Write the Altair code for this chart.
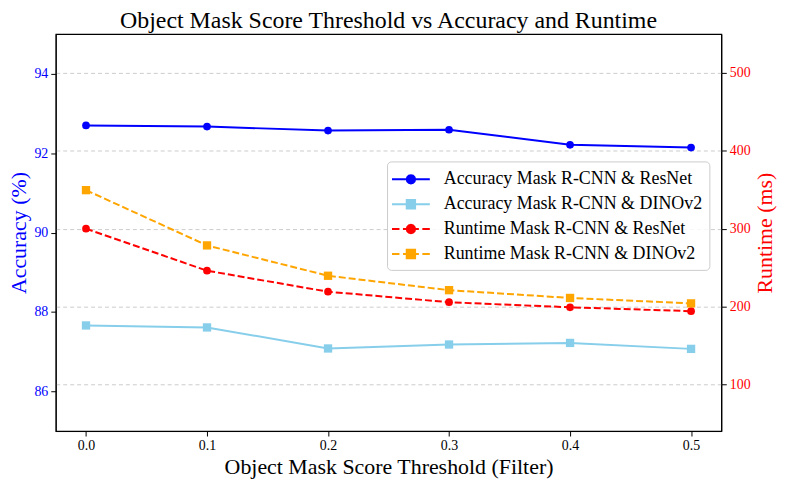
import altair as alt
import pandas as pd

thresholds = [0.0, 0.1, 0.2, 0.3, 0.4, 0.5]
acc_resnet = [92.70, 92.67, 92.57, 92.59, 92.21, 92.14]
acc_dino = [87.66, 87.61, 87.08, 87.18, 87.22, 87.07]
rt_resnet = [300.0, 246.0, 219.0, 205.5, 199.0, 194.0]
rt_dino = [349.5, 278.5, 239.5, 221.0, 211.0, 204.0]

series_names = [
    "Accuracy Mask R-CNN & ResNet",
    "Accuracy Mask R-CNN & DINOv2",
    "Runtime Mask R-CNN & ResNet",
    "Runtime Mask R-CNN & DINOv2",
]
series_colors = ["#0000ff", "#87ceeb", "#ff0000", "#ffa500"]

circle = ("M0.42,0L0.364,0.21L0.21,0.364L0,0.42L-0.21,0.364L-0.364,0.21L-0.42,0"
          "L-0.364,-0.21L-0.21,-0.364L0,-0.42L0.21,-0.364L0.364,-0.21Z")
square = "M-0.42,-0.42L0.42,-0.42L0.42,0.42L-0.42,0.42Z"
solid = "M-1.9,0L1.9,0"
dashed = "M-1.9,0L-1.15,0M-0.8,0L-0.05,0M0.05,0L0.8,0M1.15,0L1.9,0"
legend_shapes = [solid + circle, solid + square, dashed + circle, dashed + square]

acc = pd.DataFrame({
    "x": thresholds * 2,
    "value": acc_resnet + acc_dino,
    "series": [series_names[0]] * 6 + [series_names[1]] * 6,
})
rt = pd.DataFrame({
    "x": thresholds * 2,
    "value": rt_resnet + rt_dino,
    "series": [series_names[2]] * 6 + [series_names[3]] * 6,
})
allv = pd.concat([acc, rt], ignore_index=True)

FONT = "Liberation Serif"

xenc = alt.X("x:Q", scale=alt.Scale(domain=[-0.025, 0.525], nice=False, zero=False),
             axis=alt.Axis(values=thresholds, format=".1f", title="Object Mask Score Threshold (Filter)",
                           grid=False))
# visible marks: colour scale with reversed domain order (so its hidden legend is not merged with the real one)
color = alt.Color("series:N", scale=alt.Scale(domain=series_names[::-1], range=series_colors[::-1]),
                  legend=None)

yacc = alt.Y("value:Q", scale=alt.Scale(domain=[85, 95], nice=False, zero=False),
             axis=alt.Axis(values=[86, 88, 90, 92, 94], title="Accuracy (%)", orient="left",
                           labelColor="#0000ff", titleColor="#0000ff", grid=False, titlePadding=3))
yrt = alt.Y("value:Q", scale=alt.Scale(domain=[40, 550], nice=False, zero=False),
            axis=alt.Axis(values=[100, 200, 300, 400, 500], title="Runtime (ms)", orient="right",
                          labelColor="#ff0000", titleColor="#ff0000", titleAngle=270,
                          titleBaseline="top", titlePadding=4,
                          grid=True, gridDash=[4, 3], gridColor="#cccccc"))

acc_base = alt.Chart(acc).encode(x=xenc, y=yacc, color=color)
acc_line = acc_base.mark_line(strokeWidth=2)
acc_c = acc_base.mark_point(shape="circle", filled=True, size=60, opacity=1).transform_filter(
    alt.datum.series == series_names[0])
acc_s = acc_base.mark_point(shape="square", filled=True, size=70, opacity=1).transform_filter(
    alt.datum.series == series_names[1])

leg = alt.Legend(title=None, orient="none", legendX=333, legendY=128)
legend_layer = alt.Chart(allv).mark_point(filled=True, opacity=0).encode(
    x=xenc,
    fill=alt.Fill("series:N", scale=alt.Scale(domain=series_names, range=series_colors), legend=leg),
    stroke=alt.Stroke("series:N", scale=alt.Scale(domain=series_names, range=series_colors), legend=leg),
    shape=alt.Shape("series:N", scale=alt.Scale(domain=series_names, range=legend_shapes), legend=leg),
)

left = alt.layer(acc_line, acc_c, acc_s, legend_layer)

rt_base = alt.Chart(rt).encode(x=xenc, y=yrt, color=color)
rt_line = rt_base.mark_line(strokeWidth=2, strokeDash=[7, 3])
rt_c = rt_base.mark_point(shape="circle", filled=True, size=60, opacity=1).transform_filter(
    alt.datum.series == series_names[2])
rt_s = rt_base.mark_point(shape="square", filled=True, size=70, opacity=1).transform_filter(
    alt.datum.series == series_names[3])
right = alt.layer(rt_line, rt_c, rt_s)

chart = alt.layer(left, right).resolve_scale(y="independent").properties(
    width=669, height=399,
    title=alt.Title("Object Mask Score Threshold vs Accuracy and Runtime", fontSize=24,
                    font=FONT, fontWeight="normal", color="black", offset=1),
    autosize=alt.AutoSizeParams(type="none"),
    padding={"left": 48, "top": 25, "right": 60, "bottom": 50},
).configure_view(stroke="black", strokeWidth=1.2).configure_axis(
    labelFont=FONT, titleFont=FONT, labelFontSize=14, titleFontSize=22, titleFontWeight="normal",
    domainColor="black", tickColor="black", tickSize=5, labelPadding=3,
).configure_axisX(titlePadding=4).configure_legend(
    labelFont=FONT, labelFontSize=18, labelColor="black", symbolOpacity=1, symbolSize=400,
    symbolStrokeWidth=2, strokeColor="#cccccc", fillColor="rgba(255,255,255,0.85)", cornerRadius=4,
    padding=7, rowPadding=5, labelOffset=22, symbolOffset=6, labelLimit=400,
)

chart.save("out.html", embed_options={"renderer": "svg", "actions": False})
